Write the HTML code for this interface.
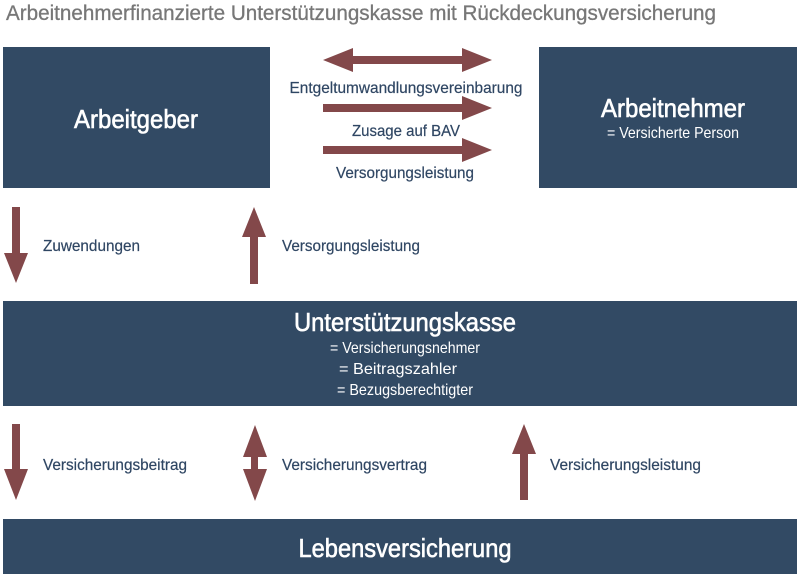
<!DOCTYPE html>
<html><head><meta charset="utf-8"><style>html,body{margin:0;padding:0;background:#fff}svg{display:block}</style></head>
<body>
<svg width="800" height="574" viewBox="0 0 800 574" xmlns="http://www.w3.org/2000/svg" font-family="'Liberation Sans', sans-serif">
<text x="6" y="20" font-size="21" fill="#777" stroke="#777" stroke-width="0.3" textLength="710" lengthAdjust="spacingAndGlyphs">Arbeitnehmerfinanzierte Unterstützungskasse mit Rückdeckungsversicherung</text>
<g fill="#324a64">
<rect x="3" y="47" width="267" height="141"/>
<rect x="539" y="47" width="258" height="141"/>
<rect x="3" y="301" width="794" height="105"/>
<rect x="3" y="519" width="794" height="55"/>
</g>
<g fill="#fff" text-anchor="middle">
<g stroke="#fff" stroke-width="0.6">
<text x="136" y="128" font-size="26" textLength="124" lengthAdjust="spacingAndGlyphs">Arbeitgeber</text>
<text x="673" y="117" font-size="26" textLength="144" lengthAdjust="spacingAndGlyphs">Arbeitnehmer</text>
<text x="405" y="331" font-size="26" textLength="222" lengthAdjust="spacingAndGlyphs">Unterstützungskasse</text>
<text x="405" y="557" font-size="26" textLength="213" lengthAdjust="spacingAndGlyphs">Lebensversicherung</text>
</g>
<text x="673" y="138" font-size="16" textLength="132" lengthAdjust="spacingAndGlyphs">= Versicherte Person</text>
<text x="405" y="353" font-size="16" textLength="150" lengthAdjust="spacingAndGlyphs">= Versicherungsnehmer</text>
<text x="398" y="374" font-size="16" textLength="118" lengthAdjust="spacingAndGlyphs">= Beitragszahler</text>
<text x="405" y="395" font-size="16" textLength="136" lengthAdjust="spacingAndGlyphs">= Bezugsberechtigter</text>
</g>
<g fill="#83484a">
<polygon points="323,60 353,48 353,56 462,56 462,48 492,60 462,72 462,64 353,64 353,72"/>
<polygon points="323,104 462,104 462,96 492,108 462,120 462,112 323,112"/>
<polygon points="323,146 462,146 462,138 492,150 462,162 462,154 323,154"/>
<polygon points="12,207 20,207 20,253 28,253 16,283 4,253 12,253"/>
<polygon points="250,284 258,284 258,237 266,237 254,207 242,237 250,237"/>
<polygon points="12,424 20,424 20,469 28,469 16,500 4,469 12,469"/>
<polygon points="255,425 267,457 258,457 258,469 267,469 255,501 243,469 251,469 251,457 243,457"/>
<polygon points="520,500 528,500 528,454 536,454 524,424 512,454 520,454"/>
</g>
<g fill="#2f4663" font-size="16" stroke="#2f4663" stroke-width="0.2">
<text x="406" y="93" text-anchor="middle" textLength="233" lengthAdjust="spacingAndGlyphs">Entgeltumwandlungsvereinbarung</text>
<text x="406" y="136" text-anchor="middle" textLength="108" lengthAdjust="spacingAndGlyphs">Zusage auf BAV</text>
<text x="405" y="178" text-anchor="middle" textLength="138" lengthAdjust="spacingAndGlyphs">Versorgungsleistung</text>
<text x="43" y="251" textLength="97" lengthAdjust="spacingAndGlyphs">Zuwendungen</text>
<text x="282" y="251" textLength="138" lengthAdjust="spacingAndGlyphs">Versorgungsleistung</text>
<text x="43" y="470" textLength="144" lengthAdjust="spacingAndGlyphs">Versicherungsbeitrag</text>
<text x="282" y="470" textLength="145" lengthAdjust="spacingAndGlyphs">Versicherungsvertrag</text>
<text x="550" y="470" textLength="151" lengthAdjust="spacingAndGlyphs">Versicherungsleistung</text>
</g>
</svg>
</body></html>
